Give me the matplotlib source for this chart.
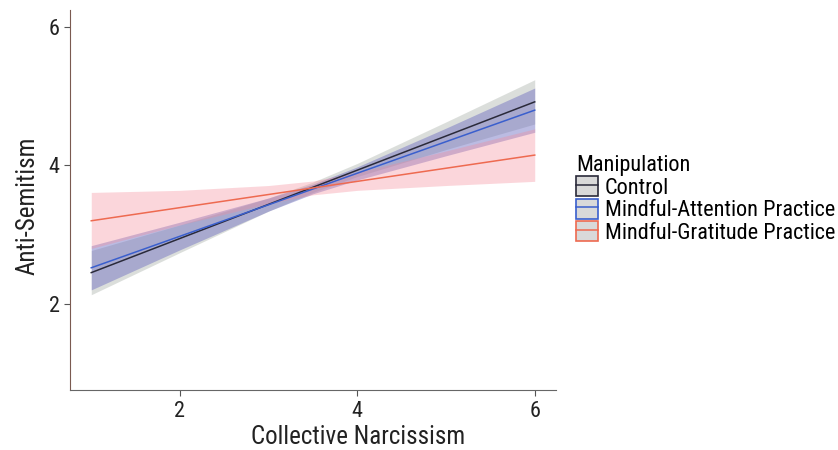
import matplotlib
matplotlib.use("Agg")
import matplotlib.pyplot as plt
from matplotlib.patches import Patch
from matplotlib.lines import Line2D

plt.rcParams["font.family"] = ["Roboto Condensed", "DejaVu Sans"]

x_pts = [1, 2, 3, 3.5, 4, 5, 6]

groups = ["Control", "Mindful-Attention Practice", "Mindful-Gratitude Practice"]

# fitted lines (ends at x=1 and x=6)
line_x = [1, 6]
control_line = [2.45, 4.92]
attention_line = [2.52, 4.80]
gratitude_line = [3.20, 4.15]

# confidence ribbons
control_lo = [2.13, 2.74, 3.34, 3.61, 3.84, 4.23, 4.60]
control_hi = [2.77, 3.14, 3.53, 3.76, 4.03, 4.63, 5.24]
attention_lo = [2.20, 2.78, 3.34, 3.59, 3.79, 4.14, 4.48]
attention_hi = [2.84, 3.18, 3.53, 3.73, 3.98, 4.54, 5.12]
gratitude_lo = [2.80, 3.14, 3.45, 3.575, 3.64, 3.71, 3.77]
gratitude_hi = [3.61, 3.64, 3.71, 3.775, 3.90, 4.21, 4.53]

line_colors = ["#2a2a3a", "#3a5fcd", "#ee6a50"]
fill_colors = ["#9aa39a", "#6a6ac0", "#f58c9a"]
fill_alpha = [0.35, 0.45, 0.35]

fig = plt.figure(figsize=(8.38, 4.5), dpi=100, facecolor="white")
ax = fig.add_axes([0.0835, 0.133, 0.58, 0.845])

lines = [control_line, attention_line, gratitude_line]
los = [control_lo, attention_lo, gratitude_lo]
his = [control_hi, attention_hi, gratitude_hi]

for i in range(3):
    ax.fill_between(x_pts, los[i], his[i], color=fill_colors[i],
                    alpha=fill_alpha[i], linewidth=0)
for i in range(3):
    ax.plot(line_x, lines[i], color=line_colors[i], linewidth=1.1)

ax.set_xlim(0.76, 6.24)
ax.set_ylim(0.75, 6.25)
ax.set_xticks([2, 4, 6])
ax.set_yticks([2, 4, 6])
ax.tick_params(labelsize=16, length=4, color="#555555", labelcolor="#222222")
for s in ["top", "right"]:
    ax.spines[s].set_visible(False)
ax.spines["left"].set_color("#7a5a50")
ax.spines["bottom"].set_color("#666666")
ax.set_xlabel("Collective Narcissism", fontsize=18, color="#222222")
ax.set_ylabel("Anti-Semitism", fontsize=18, color="#222222")
ax.xaxis.set_label_coords(0.593, -0.092)
ax.yaxis.set_label_coords(-0.062, 0.484)

handles = []
for i in range(3):
    handles.append((Patch(facecolor="#d9d9d9", edgecolor=line_colors[i], linewidth=1.2),
                    Line2D([], [], color=line_colors[i], linewidth=1.1)))
leg = fig.legend(handles, groups, title="Manipulation", loc="upper left",
                 bbox_to_anchor=(0.677, 0.675), frameon=False, fontsize=16,
                 title_fontsize=16, handlelength=1.0, handleheight=1.0,
                 handletextpad=0.3, labelspacing=0.0, borderaxespad=0)
leg._legend_box.align = "left"

fig.savefig("out.png", dpi=100, facecolor="white")
